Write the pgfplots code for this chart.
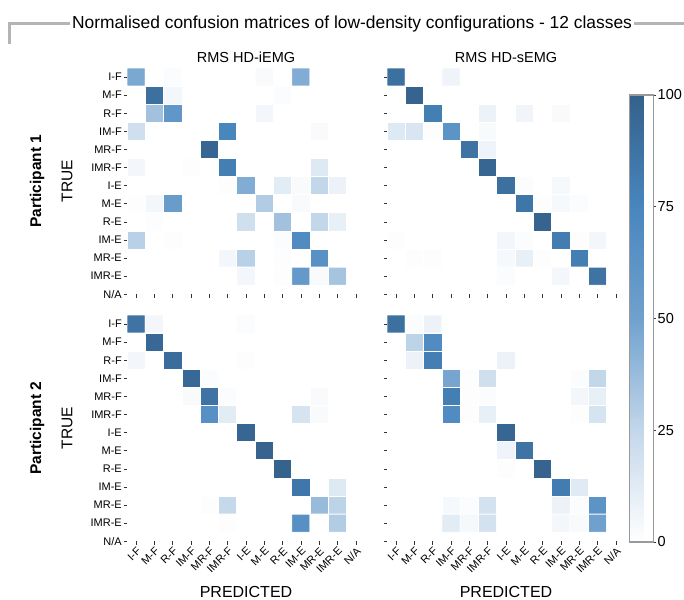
\documentclass[border=0pt]{standalone}
\usepackage{pgfplots}
\pgfplotsset{compat=1.18}
\usepackage{fontspec}
\setmainfont{Liberation Sans}
\newcommand\fs[1]{\fontsize{#1}{#1}\selectfont}
\definecolor{lineg}{RGB}{180,180,180}
\pgfplotsset{
  cmat/.style={
    scale only axis, width=238pt, height=226.25pt,
    xmin=-0.5, xmax=12.5, ymin=-0.5, ymax=12, y dir=reverse,
    colormap={bl}{rgb255=(255,255,255); rgb255=(195,215,234); rgb255=(112,161,206); rgb255=(72,134,190); rgb255=(52,97,139)},
    point meta min=0, point meta max=100,
    xtick={0,...,12}, ytick={0,...,12},
    axis line style={draw=none},
    tick align=outside, major tick length=3.5pt,
    xtick pos=bottom, ytick pos=left,
    every tick/.style={black!80, line width=0.6pt},
    yticklabel style={font=\fs{11}, inner sep=1.5pt},
    xticklabel style={font=\fs{11}, rotate=45, anchor=north east, inner sep=1pt},
    xticklabels={}, yticklabels={},
  },
  labs/.style={xticklabels={I-F,M-F,R-F,IM-F,MR-F,IMR-F,I-E,M-E,R-E,IM-E,MR-E,IMR-E,N/A}},
  ylabs/.style={yticklabels={I-F,M-F,R-F,IM-F,MR-F,IMR-F,I-E,M-E,R-E,IM-E,MR-E,IMR-E,N/A}},
  cells/.style={matrix plot*, mesh/cols=13, mesh/rows=12, point meta=explicit, draw=white, line width=0.8pt},
}
\newcommand\cm[1]{\addplot[cells] table[x expr={\coordindex-13*floor((\coordindex+0.5)/13)}, y expr={floor((\coordindex+0.5)/13)}, meta=v, row sep=\\] {#1};}
\begin{document}
\begin{tikzpicture}
\useasboundingbox (0,0) rectangle (684pt,-599pt);
% title with bracket line
\draw[lineg, line width=2.2pt] (9.5pt,-44pt) -- (9.5pt,-23.5pt) -- (684pt,-23.5pt);
\node[fill=white, inner xsep=2pt, anchor=base, font=\fs{17.4}] at (352pt,-29pt) {Normalised confusion matrices of low-density configurations - 12 classes};
\node[anchor=base, font=\fs{14.5}] at (246pt,-63pt) {RMS HD-iEMG};
\node[anchor=base, font=\fs{14.5}] at (506pt,-63pt) {RMS HD-sEMG};
\node[rotate=90, font=\fs{15.5}] at (67pt,-181pt) {TRUE};
\node[rotate=90, font=\fs{15.5}] at (67pt,-428pt) {TRUE};
\node[rotate=90, font=\fs{15.5}\bfseries] at (37pt,-181pt) {Participant 1};
\node[rotate=90, font=\fs{15.5}\bfseries] at (37pt,-428pt) {Participant 2};
\node[anchor=base, font=\fs{16}] at (246pt,-597pt) {PREDICTED};
\node[anchor=base, font=\fs{16}] at (506pt,-597pt) {PREDICTED};

% Participant 1, HD-iEMG
\begin{axis}[cmat, ylabs, at={(127pt,-68pt)}, anchor=north west]
\cm{
v\\
47\\0\\2\\0\\0\\0\\0\\3\\0\\45\\0\\0\\0\\
0\\90\\5\\0\\0\\0\\0\\0\\2\\0\\0\\0\\0\\
0\\35\\60\\0\\0\\0\\0\\5\\0\\0\\0\\0\\0\\
20\\0\\0\\0\\0\\75\\0\\0\\0\\0\\3\\0\\0\\
0\\0\\0\\0\\97\\0\\0\\0\\0\\0\\0\\0\\0\\
5\\0\\0\\1\\0\\80\\0\\0\\0\\0\\14\\0\\0\\
0\\0\\0\\0\\0\\1\\45\\0\\12\\3\\25\\8\\0\\
1\\5\\55\\0\\0\\0\\0\\30\\0\\3\\0\\0\\0\\
0\\1\\0\\0\\0\\0\\20\\0\\35\\0\\25\\10\\0\\
28\\0\\1\\0\\0\\0\\0\\0\\2\\70\\0\\0\\0\\
0\\0\\0\\0\\0\\5\\28\\0\\1\\0\\65\\0\\0\\
0\\0\\0\\0\\0\\0\\5\\0\\1\\57\\3\\34\\0\\
}
\end{axis}

% Participant 1, HD-sEMG
\begin{axis}[cmat, at={(387pt,-68pt)}, anchor=north west,
  colorbar, colorbar style={at={(parent axis.north east)}, anchor=north west,
    xshift=-4pt, yshift=-27pt, width=24pt, height=447pt,
    ytick={0,25,50,75,100}, ytick pos=right, yticklabel pos=right,
    /pgf/number format/assume math mode=true,
    yticklabel style={font=\fs{14.5}, inner sep=1.5pt},
    axis line style={draw=black!40, line width=1.3pt},
    tick align=outside, major tick length=2.5pt,
    every tick/.style={black!80, line width=0.6pt}}]
\cm{
v\\
90\\0\\0\\7\\0\\0\\0\\0\\0\\0\\0\\0\\0\\
0\\98\\0\\0\\0\\0\\0\\0\\0\\0\\0\\0\\0\\
0\\0\\80\\0\\0\\8\\0\\6\\0\\3\\0\\0\\0\\
14\\16\\1\\62\\0\\3\\0\\0\\0\\0\\0\\0\\0\\
0\\0\\0\\0\\88\\7\\0\\0\\0\\0\\0\\0\\0\\
0\\0\\0\\0\\0\\97\\0\\0\\0\\0\\0\\0\\0\\
0\\0\\0\\0\\0\\0\\90\\2\\0\\4\\0\\0\\0\\
0\\0\\0\\0\\0\\0\\0\\86\\1\\4\\2\\0\\0\\
0\\0\\0\\0\\0\\0\\0\\0\\98\\0\\0\\0\\0\\
1\\0\\0\\0\\0\\0\\5\\2\\0\\82\\1\\5\\0\\
0\\1\\1\\0\\0\\0\\4\\10\\1\\0\\80\\0\\0\\
0\\0\\0\\0\\0\\0\\2\\0\\0\\5\\0\\88\\0\\
}
\end{axis}

% Participant 2, HD-iEMG
\begin{axis}[cmat, ylabs, labs, at={(127pt,-315pt)}, anchor=north west]
\cm{
v\\
88\\5\\0\\0\\0\\0\\2\\0\\0\\0\\0\\0\\0\\
0\\95\\0\\0\\0\\0\\0\\0\\0\\0\\0\\0\\0\\
5\\0\\92\\0\\0\\0\\1\\0\\0\\0\\0\\0\\0\\
0\\0\\0\\95\\2\\0\\0\\0\\0\\0\\0\\0\\0\\
0\\0\\0\\3\\88\\2\\0\\0\\0\\0\\3\\0\\0\\
0\\0\\0\\0\\66\\12\\0\\0\\0\\17\\3\\0\\0\\
0\\0\\0\\0\\0\\0\\97\\0\\0\\0\\0\\0\\0\\
0\\0\\0\\0\\0\\0\\0\\98\\0\\0\\0\\0\\0\\
0\\0\\0\\0\\0\\0\\0\\0\\99\\0\\0\\0\\0\\
0\\0\\0\\0\\0\\0\\0\\0\\0\\85\\0\\14\\0\\
0\\0\\0\\0\\1\\24\\0\\0\\0\\0\\38\\27\\0\\
0\\0\\0\\0\\0\\1\\0\\0\\0\\66\\0\\30\\0\\
}
\end{axis}

% Participant 2, HD-sEMG
\begin{axis}[cmat, labs, at={(387pt,-315pt)}, anchor=north west]
\cm{
v\\
90\\2\\8\\0\\0\\0\\0\\0\\0\\0\\0\\0\\0\\
0\\27\\70\\0\\0\\0\\0\\0\\0\\0\\0\\0\\0\\
0\\8\\80\\0\\0\\0\\8\\0\\0\\0\\0\\0\\0\\
0\\0\\0\\48\\1\\20\\0\\0\\0\\0\\2\\25\\0\\
0\\0\\0\\80\\1\\2\\0\\0\\0\\0\\5\\10\\0\\
0\\0\\0\\70\\1\\10\\0\\0\\0\\0\\1\\17\\0\\
0\\0\\0\\0\\0\\0\\97\\0\\0\\0\\0\\0\\0\\
0\\0\\0\\0\\0\\0\\7\\88\\0\\0\\0\\0\\0\\
0\\0\\0\\0\\0\\0\\1\\0\\98\\0\\0\\0\\0\\
0\\0\\0\\0\\0\\0\\0\\0\\0\\82\\13\\0\\0\\
0\\0\\0\\4\\2\\18\\0\\0\\0\\8\\2\\62\\0\\
0\\0\\0\\12\\4\\18\\0\\0\\0\\5\\3\\50\\0\\
}
\end{axis}
\end{tikzpicture}
\end{document}
